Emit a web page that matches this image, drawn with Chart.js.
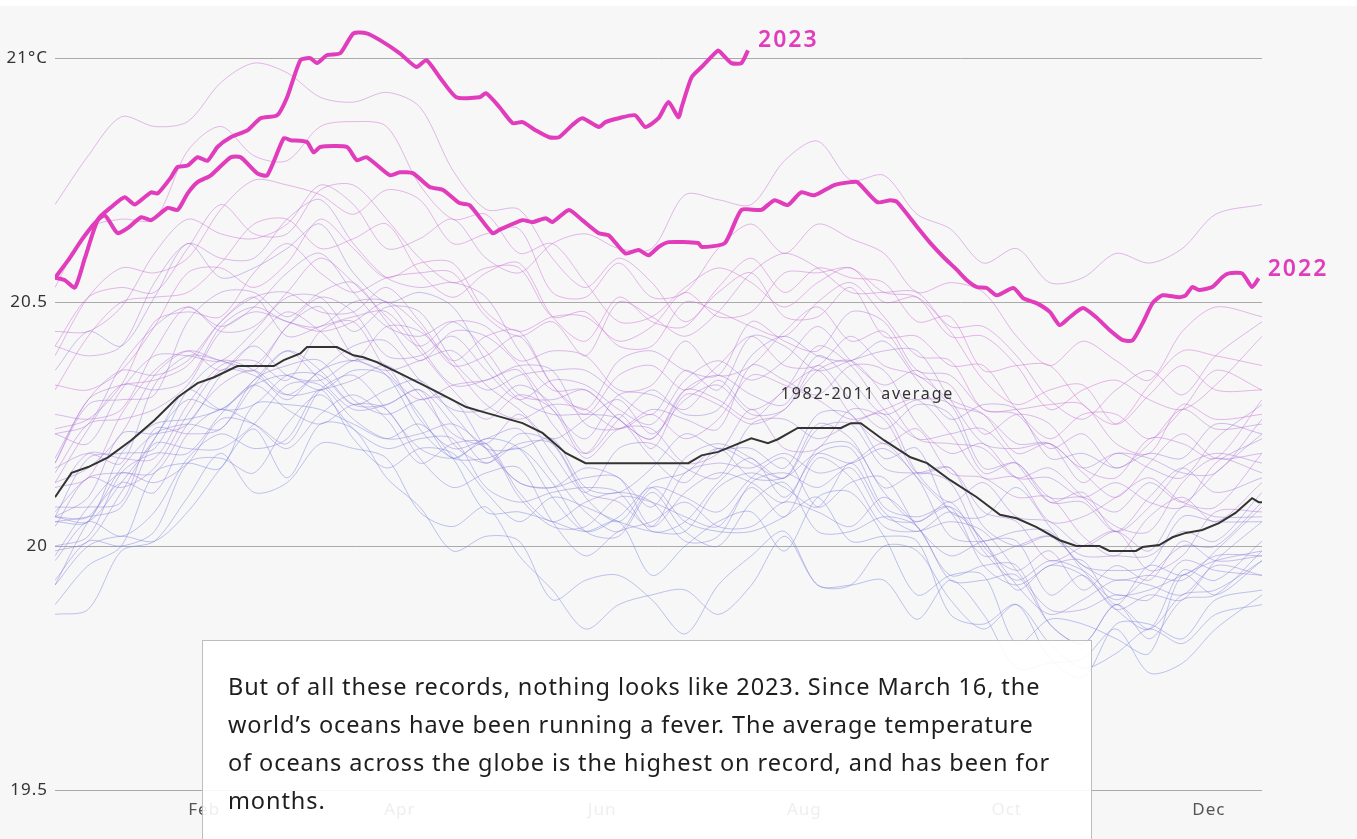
<!DOCTYPE html>
<html>
<head>
<meta charset="utf-8">
<script src="https://cdn.jsdelivr.net/npm/chart.js@4.4.1/dist/chart.umd.min.js"></script>
<style>
  body { margin: 0; background: #fff; overflow: hidden; }
  #wrap { position: relative; margin-top: 6px; width: 1357px; height: 833px; background: #f7f7f7; }
  #note {
    position: absolute; left: 202px; top: 634px; width: 838px; height: 260px;
    padding: 26px 25px 0 25px; background: rgba(255,255,255,0.9); border: 1px solid #bdbdbd;
    font-family: "Noto Sans", sans-serif; font-size: 23.5px; letter-spacing: 0.9px; line-height: 38px; color: #1e1e1e;
    white-space: nowrap;
  }
</style>
</head>
<body>
<div id="wrap">
  <canvas id="myChart" width="1357" height="833"></canvas>
  <div id="note">But of all these records, nothing looks like 2023. Since March 16, the<br>world’s oceans have been running a fever. The average temperature<br>of oceans across the globe is the highest on record, and has been for<br>months.</div>
</div>
<script>
// x = day of year
const monthTicks = [46, 105, 166, 227, 288, 349]
const monthLabels = ["Feb", "Apr", "Jun", "Aug", "Oct", "Dec"]
const yTicks = [19.5, 20, 20.5, 21]

const days2023 = [1,4,7,10,14,18,22,25,28,30,32,36,38,41,44,47,50,54,59,63,68,71,75,78,80,83,87,91,95,99,105,110,113,117,122,129,131,135,139,142,146,150,153,157,160,165,167,171,176,179,183,186,189,190,193,196,201,202,205,208,210]
const temp2023 = [20.55,20.545,20.53,20.59,20.67,20.695,20.715,20.70,20.715,20.725,20.723,20.756,20.777,20.78,20.797,20.79,20.818,20.838,20.852,20.877,20.883,20.92,20.996,21.0,20.99,21.006,21.01,21.051,21.051,21.037,21.01,20.982,20.996,20.961,20.92,20.92,20.928,20.90,20.867,20.869,20.852,20.838,20.838,20.863,20.877,20.859,20.869,20.877,20.883,20.859,20.877,20.91,20.879,20.90,20.961,20.982,21.016,21.01,20.99,20.99,21.016]

const days2022 = [1,5,9,13,16,19,20,23,27,30,35,38,41,44,48,54,57,62,65,70,72,77,79,81,89,92,95,102,105,109,114,118,123,126,133,135,142,145,149,151,156,160,165,168,173,177,180,183,186,195,196,203,208,214,218,222,226,230,236,241,243,249,253,255,261,265,269,273,276,279,282,285,290,293,297,301,304,307,311,315,319,323,326,329,332,335,340,342,344,346,350,353,355,359,362,364]
const temp2022 = [20.55,20.586,20.627,20.662,20.678,20.648,20.641,20.652,20.674,20.668,20.693,20.689,20.723,20.746,20.76,20.797,20.797,20.764,20.76,20.836,20.832,20.828,20.807,20.818,20.818,20.791,20.797,20.76,20.766,20.764,20.736,20.73,20.703,20.699,20.641,20.648,20.668,20.664,20.672,20.664,20.689,20.668,20.641,20.637,20.60,20.607,20.596,20.613,20.623,20.621,20.613,20.621,20.689,20.689,20.709,20.699,20.725,20.719,20.74,20.746,20.746,20.705,20.709,20.705,20.654,20.621,20.592,20.566,20.545,20.531,20.529,20.514,20.529,20.508,20.498,20.48,20.453,20.469,20.488,20.469,20.443,20.422,20.422,20.457,20.498,20.514,20.51,20.514,20.531,20.525,20.531,20.551,20.559,20.559,20.531,20.549]

const daysAvg = [1,6,11,17,24,31,38,44,49,56,67,70,75,77,86,91,94,98,105,115,125,130,142,148,155,161,192,196,201,206,211,216,219,225,238,241,244,251,259,264,271,279,286,291,297,304,309,316,319,327,329,334,338,342,347,352,357,362,364,365]
const tempAvg = [20.10,20.15,20.162,20.182,20.217,20.258,20.305,20.334,20.346,20.369,20.369,20.381,20.395,20.408,20.408,20.391,20.387,20.377,20.354,20.32,20.285,20.275,20.252,20.232,20.191,20.17,20.17,20.186,20.193,20.207,20.221,20.211,20.219,20.242,20.242,20.252,20.252,20.217,20.182,20.17,20.135,20.10,20.064,20.057,20.039,20.012,20.0,20.0,19.99,19.99,19.998,20.002,20.018,20.027,20.033,20.047,20.068,20.098,20.09,20.09]

// earlier years, read about every 10 days
const thinDays = [1,11,21,31,41,51,61,71,81,91,101,111,121,131,141,151,161,171,181,191,201,211,221,231,241,251,261,271,281,291,301,311,321,331,341,351,365]
const thinYears = [1982,1983,1984,1985,1986,1987,1988,1989,1990,1991,1992,1993,1994,1995,1996,1997,1998,1999,2000,2001,2002,2003,2004,2005,2006,2007,2008,2009,2010,2011,2012,2013,2014,2015,2016,2017,2018,2019,2020,2021]

const t1982 = [19.88,19.96,20.00,20.15,20.17,20.16,20.29,20.29,20.28,20.25,20.22,20.25,20.18,20.07,20.07,20.05,20.03,20.05,19.94,20.00,20.05,20.07,19.99,20.10,20.11,20.02,19.90,19.94,19.94,19.80,19.85,19.84,19.81,19.78,19.94,19.90,19.97]
const t1983 = [20.05,20.05,20.19,20.25,20.26,20.28,20.33,20.35,20.32,20.36,20.35,20.27,20.18,20.22,20.20,20.10,20.03,20.06,20.12,20.05,20.03,20.03,20.06,20.10,20.01,20.02,20.01,19.86,19.84,19.88,19.77,19.73,19.84,19.84,19.81,19.89,19.91]
const t1984 = [19.92,20.00,20.02,20.01,20.07,20.16,20.24,20.14,20.25,20.24,20.14,20.08,19.99,20.02,20.01,19.89,19.93,19.94,19.89,19.82,19.92,19.98,20.03,19.92,19.92,19.93,19.85,19.93,19.86,19.75,19.76,19.77,19.83,19.74,19.76,19.83,19.90]
const t1985 = [19.86,19.87,19.99,20.01,20.10,20.19,20.11,20.13,20.21,20.20,20.18,20.07,20.04,20.08,19.98,19.91,19.83,19.88,19.90,19.91,19.86,19.92,20.02,19.92,19.92,20.00,19.99,19.89,19.83,19.88,19.80,19.75,19.78,19.83,19.80,19.86,19.88]
const t1986 = [19.97,20.05,20.02,20.07,20.18,20.23,20.20,20.22,20.32,20.22,20.16,20.20,20.19,20.11,20.05,20.10,20.08,20.05,20.03,20.03,20.12,20.15,20.12,20.08,20.17,20.07,20.03,20.07,20.01,19.91,19.96,19.94,19.87,19.83,19.95,19.93,20.01]
const t1987 = [20.06,20.05,20.13,20.22,20.32,20.28,20.29,20.35,20.35,20.29,20.32,20.34,20.27,20.20,20.20,20.22,20.12,20.11,20.16,20.23,20.20,20.20,20.16,20.27,20.27,20.18,20.20,20.07,20.06,20.12,20.04,19.96,19.95,19.96,20.06,20.05,20.05]
const t1988 = [20.06,20.18,20.19,20.20,20.32,20.38,20.36,20.30,20.36,20.38,20.35,20.24,20.18,20.18,20.20,20.13,20.03,20.02,20.11,20.03,20.00,20.09,20.13,20.03,20.03,20.06,20.04,19.93,19.93,19.94,19.84,19.80,19.88,19.83,19.90,19.91,19.97]
const t1989 = [19.93,20.01,20.00,20.03,20.17,20.18,20.15,20.25,20.31,20.24,20.20,20.22,20.22,20.12,20.09,20.11,20.12,20.11,20.03,20.05,20.13,20.18,20.10,20.19,20.20,20.08,20.06,20.08,19.96,19.92,19.96,19.97,19.88,19.96,19.94,19.98,19.98]
const t1990 = [20.05,20.06,20.08,20.22,20.30,20.28,20.34,20.40,20.34,20.28,20.29,20.32,20.25,20.17,20.23,20.21,20.10,20.05,20.13,20.15,20.20,20.14,20.14,20.19,20.17,20.20,20.14,20.02,20.01,20.03,20.03,19.95,19.89,19.94,20.00,20.00,20.09]
const t1991 = [20.06,20.06,20.16,20.23,20.25,20.24,20.34,20.37,20.38,20.30,20.27,20.30,20.30,20.20,20.13,20.12,20.14,20.14,20.04,20.11,20.15,20.13,20.09,20.20,20.21,20.11,20.05,20.09,19.99,19.93,19.97,19.95,19.90,19.91,19.94,19.97,19.99]
const t1992 = [20.00,20.02,20.15,20.19,20.19,20.27,20.33,20.28,20.25,20.29,20.28,20.18,20.12,20.15,20.16,20.05,19.98,20.03,20.05,20.09,20.04,20.04,20.09,20.07,20.04,20.10,20.04,19.94,19.96,19.96,19.84,19.80,19.88,19.81,19.89,19.90,19.99]
const t1993 = [19.98,20.08,20.15,20.13,20.17,20.26,20.25,20.21,20.32,20.35,20.28,20.20,20.18,20.21,20.11,20.05,20.09,20.11,20.09,20.01,20.02,20.13,20.15,20.12,20.16,20.06,20.05,20.08,20.01,19.92,19.86,19.89,19.93,19.92,19.90,19.96,19.94]
const t1994 = [19.99,20.01,20.11,20.21,20.20,20.20,20.25,20.33,20.33,20.26,20.22,20.23,20.25,20.20,20.13,20.12,20.16,20.14,20.08,20.18,20.21,20.18,20.14,20.24,20.25,20.16,20.15,20.16,20.04,20.00,20.02,19.98,19.98,19.98,20.03,20.01,20.11]
const t1995 = [20.06,20.10,20.23,20.23,20.25,20.35,20.41,20.35,20.34,20.38,20.37,20.26,20.20,20.22,20.24,20.15,20.07,20.03,20.12,20.10,20.07,20.14,20.18,20.08,20.13,20.14,20.04,19.98,20.01,20.01,19.90,19.94,19.87,19.90,19.89,19.97,20.05]
const t1996 = [19.92,20.05,20.13,20.11,20.23,20.28,20.25,20.20,20.27,20.31,20.26,20.17,20.21,20.21,20.10,20.04,20.04,20.10,20.09,20.06,20.04,20.12,20.06,20.18,20.14,20.04,20.03,20.05,20.03,19.95,19.87,19.87,19.90,19.89,19.97,19.95,19.94]
const t1997 = [20.04,20.14,20.12,20.16,20.27,20.36,20.35,20.31,20.36,20.41,20.42,20.34,20.28,20.28,20.33,20.29,20.19,20.26,20.32,20.27,20.28,20.39,20.43,20.39,20.38,20.42,20.34,20.26,20.29,20.28,20.18,20.19,20.16,20.19,20.18,20.25,20.23]
const t1998 = [20.36,20.44,20.41,20.51,20.62,20.55,20.57,20.61,20.66,20.56,20.50,20.52,20.49,20.38,20.30,20.27,20.27,20.26,20.18,20.13,20.20,20.17,20.14,20.25,20.22,20.12,20.15,20.13,20.00,19.95,19.99,19.91,19.96,19.93,20.01,19.97,19.98]
const t1999 = [20.08,20.08,20.09,20.24,20.23,20.24,20.33,20.40,20.36,20.29,20.29,20.32,20.21,20.17,20.21,20.21,20.11,20.09,20.04,20.15,20.17,20.16,20.19,20.15,20.17,20.21,20.14,20.07,19.98,20.00,20.02,19.96,19.93,19.94,19.93,19.99,20.08]
const t2000 = [20.07,20.14,20.15,20.15,20.25,20.33,20.36,20.31,20.32,20.34,20.37,20.31,20.23,20.21,20.27,20.19,20.11,20.20,20.21,20.16,20.14,20.25,20.26,20.22,20.25,20.27,20.15,20.09,20.13,20.06,20.05,20.00,20.03,19.99,20.08,20.06,20.06]
const t2001 = [20.16,20.19,20.17,20.33,20.39,20.38,20.36,20.45,20.49,20.39,20.36,20.38,20.40,20.33,20.28,20.22,20.26,20.30,20.23,20.30,20.33,20.27,20.28,20.37,20.30,20.24,20.29,20.27,20.15,20.17,20.09,20.09,20.03,20.10,20.16,20.11,20.14]
const t2002 = [20.23,20.21,20.32,20.39,20.39,20.38,20.44,20.51,20.51,20.44,20.49,20.48,20.38,20.32,20.35,20.36,20.36,20.31,20.27,20.36,20.32,20.43,20.41,20.36,20.38,20.40,20.40,20.30,20.21,20.20,20.21,20.16,20.19,20.18,20.15,20.15,20.26]
const t2003 = [20.23,20.25,20.37,20.45,20.49,20.45,20.49,20.56,20.60,20.52,20.45,20.43,20.46,20.40,20.31,20.30,20.32,20.26,20.22,20.32,20.35,20.31,20.29,20.39,20.34,20.27,20.30,20.29,20.16,20.17,20.10,20.10,20.07,20.13,20.09,20.15,20.23]
const t2004 = [20.13,20.24,20.33,20.32,20.34,20.45,20.49,20.46,20.45,20.50,20.50,20.41,20.33,20.34,20.37,20.36,20.25,20.24,20.28,20.26,20.24,20.37,20.34,20.31,20.37,20.36,20.25,20.19,20.21,20.14,20.14,20.10,20.13,20.09,20.08,20.17,20.22]
const t2005 = [20.17,20.29,20.30,20.31,20.46,20.52,20.52,20.47,20.52,20.54,20.46,20.38,20.44,20.43,20.37,20.28,20.22,20.31,20.31,20.28,20.34,20.28,20.32,20.41,20.37,20.28,20.22,20.23,20.24,20.17,20.09,20.11,20.03,20.08,20.16,20.19,20.17]
const t2006 = [20.13,20.16,20.23,20.35,20.40,20.38,20.37,20.45,20.51,20.48,20.39,20.39,20.43,20.36,20.30,20.34,20.33,20.28,20.25,20.34,20.38,20.34,20.38,20.45,20.38,20.33,20.36,20.29,20.27,20.21,20.21,20.13,20.19,20.16,20.14,20.22,20.29]
const t2007 = [20.18,20.30,20.36,20.35,20.38,20.46,20.51,20.43,20.45,20.47,20.48,20.40,20.32,20.26,20.31,20.28,20.18,20.24,20.24,20.17,20.19,20.28,20.20,20.20,20.28,20.26,20.15,20.16,20.07,20.05,19.97,20.00,20.03,19.95,19.98,20.07,20.07]
const t2008 = [20.10,20.19,20.18,20.18,20.29,20.37,20.38,20.34,20.44,20.46,20.36,20.30,20.33,20.34,20.36,20.25,20.19,20.27,20.20,20.31,20.29,20.25,20.28,20.36,20.38,20.31,20.22,20.21,20.20,20.14,20.16,20.10,20.04,20.03,20.13,20.18,20.15]
const t2009 = [20.15,20.25,20.26,20.28,20.33,20.44,20.48,20.46,20.44,20.46,20.50,20.45,20.37,20.39,20.43,20.33,20.28,20.38,20.40,20.36,20.35,20.46,20.42,20.40,20.48,20.46,20.36,20.35,20.28,20.27,20.20,20.23,20.16,20.21,20.28,20.24,20.25]
const t2010 = [20.41,20.39,20.41,20.54,20.62,20.59,20.59,20.67,20.71,20.62,20.55,20.53,20.54,20.51,20.40,20.32,20.32,20.26,20.22,20.32,20.30,20.26,20.32,20.36,20.27,20.21,20.24,20.15,20.14,20.10,20.10,20.02,19.98,20.06,20.10,20.05,20.13]
const t2011 = [20.12,20.14,20.27,20.36,20.40,20.36,20.42,20.48,20.44,20.38,20.45,20.44,20.37,20.29,20.26,20.29,20.28,20.24,20.27,20.22,20.26,20.35,20.33,20.30,20.26,20.28,20.30,20.23,20.14,20.14,20.05,20.06,20.10,20.14,20.09,20.08,20.19]
const t2012 = [20.17,20.30,20.33,20.34,20.37,20.46,20.51,20.52,20.48,20.48,20.53,20.46,20.38,20.43,20.44,20.33,20.27,20.35,20.37,20.32,20.37,20.43,20.37,20.37,20.43,20.37,20.35,20.30,20.27,20.19,20.21,20.15,20.10,20.17,20.23,20.18,20.19]
const t2013 = [20.27,20.26,20.28,20.40,20.49,20.44,20.45,20.52,20.59,20.54,20.47,20.41,20.46,20.45,20.38,20.40,20.39,20.32,20.33,20.42,20.35,20.37,20.44,20.49,20.42,20.44,20.35,20.33,20.23,20.27,20.25,20.16,20.14,20.22,20.21,20.18,20.30]
const t2014 = [20.24,20.26,20.33,20.46,20.48,20.47,20.56,20.62,20.56,20.52,20.55,20.56,20.56,20.47,20.43,20.46,20.39,20.50,20.47,20.43,20.48,20.56,20.60,20.57,20.52,20.52,20.52,20.45,20.45,20.39,20.30,20.26,20.32,20.36,20.31,20.39,20.46]
const t2015 = [20.44,20.44,20.49,20.60,20.67,20.64,20.63,20.66,20.74,20.70,20.61,20.63,20.67,20.59,20.56,20.62,20.64,20.61,20.61,20.72,20.71,20.70,20.79,20.83,20.75,20.76,20.68,20.65,20.58,20.61,20.54,20.55,20.60,20.58,20.61,20.68,20.70]
const t2016 = [20.70,20.80,20.88,20.86,20.87,20.95,20.99,20.97,20.92,20.91,20.93,20.90,20.77,20.69,20.69,20.59,20.53,20.59,20.54,20.46,20.52,20.56,20.47,20.47,20.53,20.43,20.43,20.37,20.37,20.28,20.22,20.27,20.27,20.22,20.28,20.36,20.32]
const t2017 = [20.41,20.51,20.53,20.52,20.61,20.70,20.64,20.64,20.73,20.74,20.67,20.59,20.54,20.57,20.57,20.47,20.48,20.41,20.41,20.50,20.48,20.45,20.43,20.50,20.54,20.47,20.39,20.38,20.28,20.28,20.29,20.29,20.21,20.19,20.29,20.26,20.27]
const t2018 = [20.33,20.32,20.36,20.45,20.56,20.57,20.53,20.58,20.67,20.61,20.55,20.58,20.58,20.48,20.44,20.47,20.47,20.42,20.45,20.52,20.47,20.48,20.56,20.56,20.57,20.52,20.51,20.43,20.43,20.37,20.28,20.32,20.34,20.30,20.28,20.33,20.43]
const t2019 = [20.39,20.51,20.57,20.56,20.59,20.69,20.75,20.74,20.72,20.68,20.73,20.71,20.62,20.64,20.65,20.52,20.51,20.58,20.51,20.52,20.61,20.66,20.60,20.66,20.63,20.60,20.52,20.54,20.52,20.43,20.37,20.42,20.38,20.34,20.44,20.49,20.47]
const t2020 = [20.53,20.65,20.67,20.67,20.81,20.86,20.80,20.79,20.86,20.87,20.86,20.74,20.67,20.68,20.60,20.62,20.54,20.46,20.47,20.53,20.57,20.54,20.49,20.54,20.57,20.50,20.51,20.44,20.34,20.29,20.32,20.33,20.25,20.31,20.37,20.32,20.32]
const t2021 = [20.32,20.43,20.50,20.51,20.52,20.58,20.66,20.67,20.61,20.63,20.66,20.56,20.51,20.56,20.58,20.47,20.42,20.51,20.46,20.45,20.53,20.59,20.52,20.57,20.55,20.54,20.46,20.47,20.36,20.37,20.37,20.29,20.25,20.33,20.40,20.39,20.37]

const thinSeries = [t1982,t1983,t1984,t1985,t1986,t1987,t1988,t1989,t1990,t1991,t1992,t1993,t1994,t1995,t1996,t1997,t1998,t1999,t2000,t2001,t2002,t2003,t2004,t2005,t2006,t2007,t2008,t2009,t2010,t2011,t2012,t2013,t2014,t2015,t2016,t2017,t2018,t2019,t2020,t2021]

function pts(days, vals) {
    return vals.map((v, i) => ({ x: days[i], y: v }))
}

function yearColor(i) {
    const t = i / (thinYears.length - 1)
    const r = Math.round(110 + t * (210 - 110))
    const g = Math.round(130 + t * (100 - 130))
    const b = Math.round(220 + t * (210 - 220))
    return `rgba(${r},${g},${b},0.45)`
}

const pink = '#e03cbc'

// first dataset is drawn on top
const datasets = [
    { label: '2023', data: pts(days2023, temp2023), borderColor: pink, borderWidth: 4, tension: 0.2 },
    { label: '2022', data: pts(days2022, temp2022), borderColor: pink, borderWidth: 4, tension: 0.2 },
    { label: '1982-2011 average', data: pts(daysAvg, tempAvg), borderColor: '#333', borderWidth: 2, tension: 0 }
]
thinSeries.forEach((s, i) => {
    datasets.push({ label: String(thinYears[i]), data: pts(thinDays, s), borderColor: yearColor(i), borderWidth: 1, tension: 0.3 })
})

const labelPlugin = {
    id: 'labels',
    beforeDraw(chart) {
        chart.ctx.letterSpacing = '1px'
    },
    afterDatasetsDraw(chart) {
        const ctx = chart.ctx
        const x = chart.scales.x
        const y = chart.scales.y
        ctx.save()
        ctx.textBaseline = 'middle'
        ctx.textAlign = 'left'
        ctx.fillStyle = pink
        ctx.font = '600 23px "Noto Sans"'
        ctx.letterSpacing = '2px'
        const l23 = days2023.length - 1
        ctx.fillText('2023', x.getPixelForValue(days2023[l23]) + 10, y.getPixelForValue(temp2023[l23]) - 10)
        const l22 = days2022.length - 1
        ctx.fillText('2022', x.getPixelForValue(days2022[l22]) + 9, y.getPixelForValue(temp2022[l22]) - 9)
        ctx.fillStyle = '#333'
        ctx.font = '16px "Noto Sans"'
        ctx.letterSpacing = '1.8px'
        ctx.textAlign = 'center'
        ctx.fillText('1982-2011 average', x.getPixelForValue(246), y.getPixelForValue(20.31))
        ctx.restore()
    }
}

new Chart(document.getElementById('myChart'), {
    type: 'line',
    data: { datasets: datasets },
    options: {
        responsive: false,
        animation: false,
        layout: { padding: { left: 0, right: 95, top: 0, bottom: 0 } },
        elements: { point: { radius: 0 } },
        plugins: { legend: { display: false }, tooltip: { enabled: false } },
        scales: {
            x: {
                type: 'linear',
                min: 1,
                max: 365,
                grid: { display: false, drawTicks: false },
                border: { display: false },
                afterBuildTicks: axis => { axis.ticks = monthTicks.map(v => ({ value: v })) },
                afterFit: axis => { axis.height = 49 },
                ticks: {
                    autoSkip: false,
                    maxRotation: 0,
                    padding: 10,
                    color: '#555',
                    font: { family: 'Noto Sans', size: 17 },
                    callback: v => monthLabels[monthTicks.indexOf(v)]
                }
            },
            y: {
                min: 19.5,
                max: 21.107,
                grid: { color: '#aaa', lineWidth: 1, drawTicks: false },
                border: { display: false },
                afterBuildTicks: axis => { axis.ticks = yTicks.map(v => ({ value: v })) },
                afterFit: axis => {
                    axis.width = 55
                    axis.paddingTop = 0
                    axis.paddingBottom = 0
                },
                ticks: {
                    padding: 7,
                    color: '#333',
                    font: { family: 'Noto Sans', size: 17 },
                    callback: v => v === 21 ? '21°C' : String(v)
                }
            }
        }
    },
    plugins: [labelPlugin]
})
</script>
</body>
</html>
